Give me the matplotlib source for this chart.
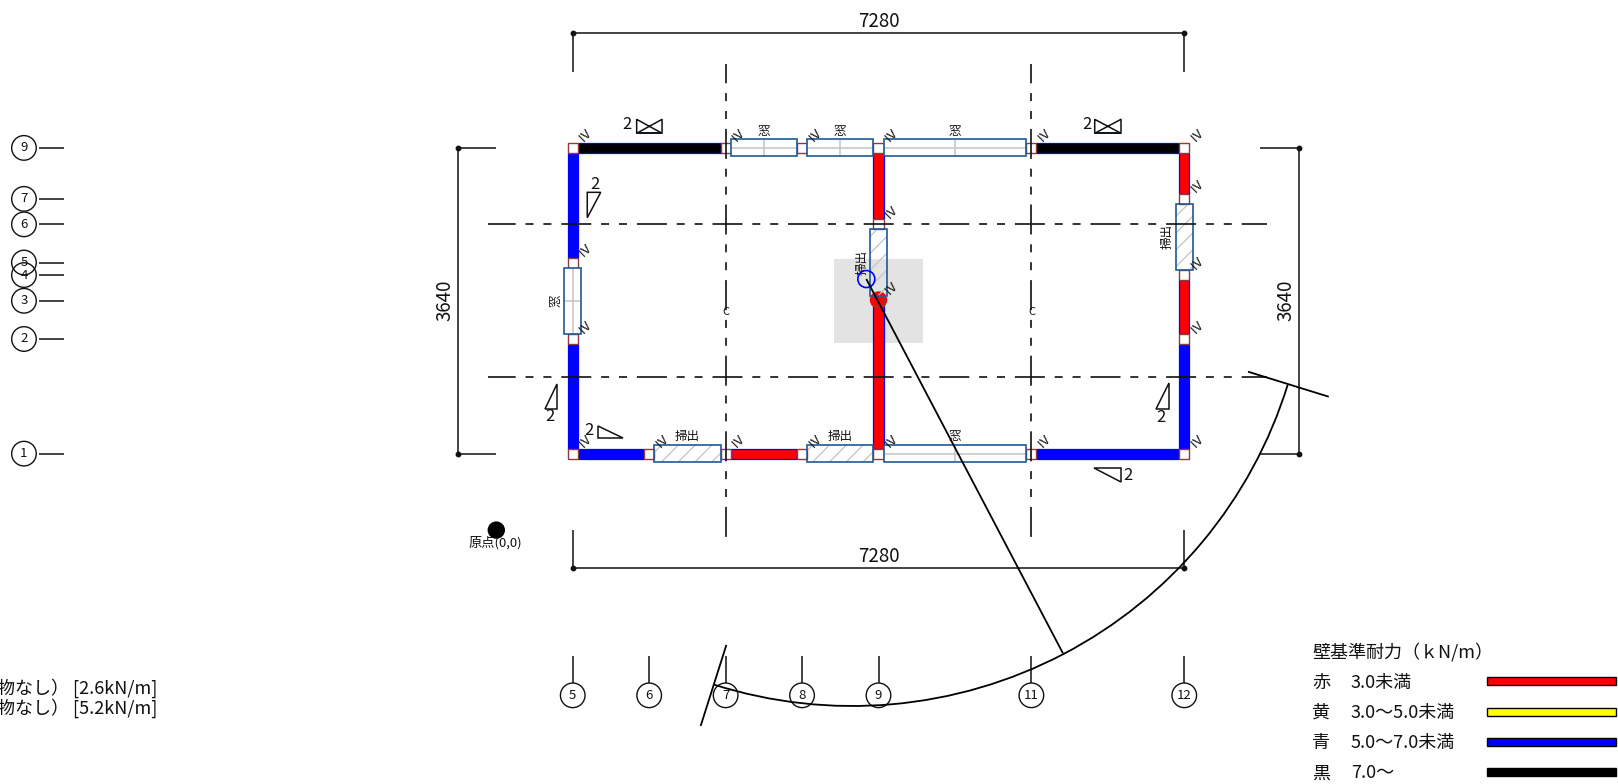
import matplotlib
matplotlib.use("Agg")
import matplotlib.pyplot as plt
from matplotlib.patches import Arc, Circle, Polygon, Rectangle

plt.rcParams["font.family"] = ["Liberation Sans Narrow", "Noto Sans CJK JP", "DejaVu Sans"]
plt.rcParams["lines.scale_dashes"] = False

# plan coordinates are millimetres from the drawing origin
GRID_X = {"5": 910, "6": 1820, "7": 2730, "8": 3640, "9": 4550, "11": 6370, "12": 8190}
GRID_Y = {"1": 910, "2": 2275, "3": 2730, "4": 3036, "5": 3185, "6": 3640, "7": 3943, "9": 4550}
DASHED_X = [2730, 6370]
DASHED_Y = [3640, 1820]
BUBBLE_LEFT_ORDER = ["1", "2", "3", "4", "5", "6", "7", "9"]

# (fixed coordinate, start, end, kind)
WALLS_H = [
    (4550, 910, 2730, "black"),
    (4550, 2730, 3640, "window"),
    (4550, 3640, 4550, "window"),
    (4550, 4550, 6370, "window"),
    (4550, 6370, 8190, "black"),
    (910, 910, 1820, "blue"),
    (910, 1820, 2730, "slider"),
    (910, 2730, 3640, "red"),
    (910, 3640, 4550, "slider"),
    (910, 4550, 6370, "window"),
    (910, 6370, 8190, "blue"),
]
WALLS_V = [
    (910, 3185, 4550, "blue"),
    (910, 2275, 3185, "window"),
    (910, 910, 2275, "blue"),
    (4550, 3640, 4550, "red"),
    (4550, 2730, 3640, "slider"),
    (4550, 910, 2730, "red"),
    (8190, 3943, 4550, "red"),
    (8190, 3036, 3943, "slider"),
    (8190, 2275, 3036, "red"),
    (8190, 910, 2275, "blue"),
]
OPENING_LABELS = {"window": "窓", "slider": "掃出"}

# brace symbols: triangle corners and the multiplier position
BRACE_TRIANGLES = [
    ([(1083, 4021), (1243, 4021), (1083, 3719)], (1175, 4120)),
    ([(726, 1739), (726, 1442), (576, 1442)], (639, 1350)),
    ([(1207, 1239), (1207, 1093), (1512, 1093)], (1107, 1180)),
    ([(8005, 1748), (8005, 1442), (7854, 1442)], (7917, 1343)),
    ([(7119, 736), (7437, 736), (7437, 576)], (7524, 648)),
]
BRACE_CROSSES = [
    (1671, 1973, 4724, 4890, 1560, 4823),
    (7124, 7437, 4724, 4890, 7029, 4823),
]

LEGEND_TITLE = "壁基準耐力（ｋN/m）"
LEGEND_NAMES = ["赤", "黄", "青", "黒"]
LEGEND_RANGES = ["3.0未満", "3.0～5.0未満", "5.0～7.0未満", "7.0～"]
LEGEND_COLORS = ["#ff0000", "#ffff00", "#0000ff", "#000000"]
LEGEND_Y = [-1800, -2160, -2520, -2880]

CUT_TEXT = ["物なし） [2.6kN/m]", "物なし） [5.2kN/m]"]
CUT_TEXT_Y = [-1886, -2124]

PX = 0.084  # pixels per mm
ORIGIN_PX = (496.3, 530.1)
WALL_HALF = 60
OPENING_HALF = 100
HATCH_STEP = 200
INK = "#111111"


def px(n):
    return n / PX


fig = plt.figure(figsize=(16.18, 7.84), dpi=100)
ax = fig.add_axes([0, 0, 1, 1])
ax.set_xlim(-ORIGIN_PX[0] / PX, (1618 - ORIGIN_PX[0]) / PX)
ax.set_ylim((ORIGIN_PX[1] - 784) / PX, ORIGIN_PX[1] / PX)
ax.axis("off")


def seg(xs, ys, lw=1.1, z=6, color=INK, **kw):
    return ax.plot(xs, ys, color=color, lw=lw, zorder=z, solid_capstyle="butt", **kw)[0]


def opening(x0, y0, x1, y1, kind, horizontal):
    w, h = x1 - x0, y1 - y0
    frame = Rectangle((x0, y0), w, h, fc="none", ec="#1f5a96", lw=1.2, zorder=5)
    ax.add_patch(frame)
    if kind == "slider":
        # 45 degree hatch, clipped to the frame
        c = (y0 - x1) // HATCH_STEP * HATCH_STEP + 45
        while c < y1 - x0:
            line = seg([x0 - 50, x1 + 50], [x0 - 50 + c, x1 + 50 + c], lw=0.9, z=4.6, color="#c4c4c4")
            line.set_clip_path(frame)
            c += HATCH_STEP
    else:
        ax.add_patch(Rectangle((x0, y0), w, h, fc="white", ec="none", zorder=4.5))
        seg([x0, x1], [(y0 + y1) / 2] * 2, lw=1.2, z=4.6, color="#c8c8c8")
        seg([(x0 + x1) / 2] * 2, [y0, y1], lw=1.2, z=4.6, color="#c8c8c8")
    if horizontal:
        ax.text((x0 + x1) / 2, y1 + 100, OPENING_LABELS[kind], fontsize=9, ha="center", va="center", color=INK, zorder=7)
    else:
        ax.text(x0 - 100, (y0 + y1) / 2, OPENING_LABELS[kind], fontsize=9, rotation=90, ha="center", va="center", color=INK, zorder=7)


# grey zone and the two centre marks
ax.add_patch(Rectangle((4020, 2231), 1056, 1000, fc="#e3e3e3", ec="none", zorder=1))
ax.add_patch(Circle((4550, 2739), px(8.7), fc="#ff0000", ec="none", zorder=3.5))

posts = set()
for y, a, b, kind in WALLS_H:
    posts.update([(a, y), (b, y)])
    if kind in OPENING_LABELS:
        opening(a + WALL_HALF, y - OPENING_HALF, b - WALL_HALF, y + OPENING_HALF, kind, True)
    else:
        ax.add_patch(Rectangle((a + WALL_HALF, y - WALL_HALF), b - a - 2 * WALL_HALF, 2 * WALL_HALF,
                               fc=kind, ec="#0000ff", lw=0.9, zorder=2))
for x, a, b, kind in WALLS_V:
    posts.update([(x, a), (x, b)])
    if kind in OPENING_LABELS:
        opening(x - OPENING_HALF, a + WALL_HALF, x + OPENING_HALF, b - WALL_HALF, kind, False)
    else:
        ax.add_patch(Rectangle((x - WALL_HALF, a + WALL_HALF), 2 * WALL_HALF, b - a - 2 * WALL_HALF,
                               fc=kind, ec="#0000ff", lw=0.9, zorder=2))

for x, y in sorted(posts):
    ax.add_patch(Rectangle((x - WALL_HALF, y - WALL_HALF), 2 * WALL_HALF, 2 * WALL_HALF, fc="white", ec="none", zorder=3))
    ax.add_patch(Rectangle((x - WALL_HALF, y - WALL_HALF), 2 * WALL_HALF, 2 * WALL_HALF, fc="none", ec="#8c3c3c", lw=1.0, zorder=4))
    ax.text(x + 150, y + 150, "Ⅳ", fontsize=9.5, rotation=45, family=["Noto Sans CJK JP", "DejaVu Sans"],
            ha="center", va="center", color=INK, zorder=7)

# dashed grid lines, drawn from the top / the left
DASH_PX = (30, 9.8, 8, 9.9, 8, 9.9)
dash = tuple(d * 0.72 for d in DASH_PX)
for x in DASHED_X:
    ax.plot([x, x], [5549, -79], color=INK, lw=1.2, zorder=6, linestyle=(10.7 * 0.72, dash))
    ax.text(x, 2596, "C", fontsize=8, ha="center", va="center", color=INK, zorder=7)
for y in DASHED_Y:
    ax.plot([-99, 9170], [y, y], color=INK, lw=1.2, zorder=6, linestyle=(2.3 * 0.72, dash))

# dimension lines
x5, x12 = GRID_X["5"], GRID_X["12"]
y1, y9 = GRID_Y["1"], GRID_Y["9"]
for yd, yt in [(5918, 5454), (-455, 1)]:
    seg([x5, x12], [yd, yd])
    for x in (x5, x12):
        seg([x, x], [yd, yt])
        ax.plot([x], [yd], "o", ms=3.2, color=INK, zorder=6)
    ax.text((x5 + x12) / 2, yd + 135, "7280", fontsize=13.5, ha="center", va="center", color=INK)
for xd, xt in [(-456, 0), (9556, 9092)]:
    seg([xd, xd], [y1, y9])
    for y in (y1, y9):
        seg([xd, xt], [y, y])
        ax.plot([xd], [y], "o", ms=3.2, color=INK, zorder=6)
    ax.text(xd - 160, (y1 + y9) / 2, "3640", fontsize=13.5, rotation=90, ha="center", va="center", color=INK)

# grid bubbles
for name in BUBBLE_LEFT_ORDER:
    y = GRID_Y[name]
    seg([-5440, -5146], [y, y])
    ax.add_patch(Circle((-5623, y), px(12.3), fc="none", ec=INK, lw=1.0, zorder=6))
    ax.text(-5623, y, name, fontsize=9.5, ha="center", va="center", color=INK, zorder=7)
for name, x in GRID_X.items():
    seg([x, x], [-1499, -1820])
    ax.add_patch(Circle((x, -1967), px(12.3), fc="none", ec=INK, lw=1.0, zorder=6))
    ax.text(x, -1967, name, fontsize=9.5, ha="center", va="center", color=INK, zorder=7)

# brace marks
for corners, (tx, ty) in BRACE_TRIANGLES:
    ax.add_patch(Polygon(corners, closed=True, fc="white", ec=INK, lw=1.1, zorder=6))
    ax.text(tx, ty, "2", fontsize=12, ha="center", va="center", color=INK)
for l, r, b, t, tx, ty in BRACE_CROSSES:
    seg([l, l, r, r, l], [t, b, t, b, t])
    seg([l, r], [b, b], lw=1.4)
    ax.text(tx, ty, "2", fontsize=12, ha="center", va="center", color=INK)

# eccentricity marks
ax.add_patch(Circle((4405, 2989), px(8.5), fc="none", ec="#0000ff", lw=1.2, zorder=8))
seg([4405, 6746], [2989, -1467], lw=1.3, z=8, color="black")
ax.add_patch(Arc((4235, 3335), 2 * 5429, 2 * 5429, theta1=-107.6, theta2=-17.2, ec="black", lw=1.3, zorder=8))
seg([8949, 9910], [1886, 1588], lw=1.3, z=8, color="black")
seg([2739, 2433], [-1367, -2331], lw=1.3, z=8, color="black")

# origin
ax.add_patch(Circle((0, 0), px(8.7), fc="black", ec="none", zorder=6))
ax.text(-15, -154, "原点(0,0)", fontsize=9.5, ha="center", va="center", color=INK)

# legend
ax.text(9711, -1448, LEGEND_TITLE, fontsize=13, ha="left", va="center", color=INK)
for name, label, color, y in zip(LEGEND_NAMES, LEGEND_RANGES, LEGEND_COLORS, LEGEND_Y):
    ax.text(9711, y - 15, name, fontsize=13, ha="left", va="center", color=INK)
    ax.text(10174, y - 15, label, fontsize=13, ha="left", va="center", color=INK)
    ax.add_patch(Rectangle((11790, y - 48), 1540, 96, fc=color, ec="black", lw=1.0, zorder=3))

for label, y in zip(CUT_TEXT, CUT_TEXT_Y):
    ax.text(-4039, y, label, fontsize=13, ha="right", va="center", color=INK)

fig.savefig("out.png", dpi=100)
